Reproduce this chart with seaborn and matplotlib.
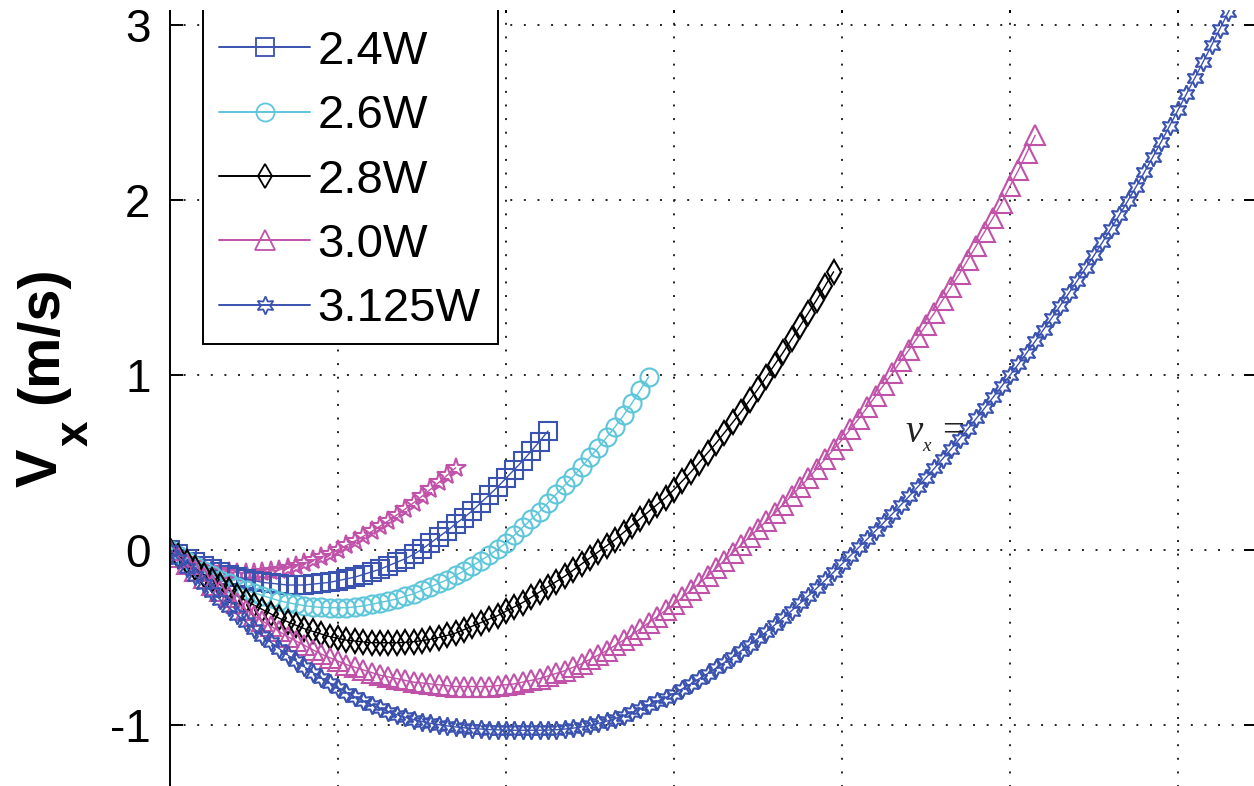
import matplotlib
matplotlib.use('Agg')
import matplotlib.pyplot as plt
from matplotlib.lines import Line2D
from matplotlib.patches import Rectangle
import seaborn as sns

# sample times (shared by all runs, each run uses the first len(v) of them)
t = [0.00, 0.05, 0.10, 0.15, 0.20, 0.25, 0.30, 0.35, 0.40, 0.45,
     0.50, 0.55, 0.60, 0.65, 0.70, 0.75, 0.80, 0.85, 0.90, 0.95,
     1.00, 1.05, 1.10, 1.15, 1.20, 1.25, 1.30, 1.35, 1.40, 1.45,
     1.50, 1.55, 1.60, 1.65, 1.70, 1.75, 1.80, 1.85, 1.90, 1.95,
     2.00, 2.05, 2.10, 2.15, 2.20, 2.25, 2.30, 2.35, 2.40, 2.45,
     2.50, 2.55, 2.60, 2.65, 2.70, 2.75, 2.80, 2.85, 2.90, 2.95,
     3.00, 3.05, 3.10, 3.15, 3.20, 3.25, 3.30, 3.35, 3.40, 3.45,
     3.50, 3.55, 3.60, 3.65, 3.70, 3.75, 3.80, 3.85, 3.90, 3.95,
     4.00, 4.05, 4.10, 4.15, 4.20, 4.25, 4.30, 4.35, 4.40, 4.45,
     4.50, 4.55, 4.60, 4.65, 4.70, 4.75, 4.80, 4.85, 4.90, 4.95,
     5.00, 5.05, 5.10, 5.15, 5.20, 5.25, 5.30, 5.35, 5.40, 5.45,
     5.50, 5.55, 5.60, 5.65, 5.70, 5.75, 5.80, 5.85, 5.90, 5.95,
     6.00, 6.05, 6.10, 6.15, 6.20, 6.25, 6.30, 6.35]

v_22 = [0, -0.03, -0.057, -0.078, -0.095, -0.108, -0.118, -0.125, -0.129, -0.131,
        -0.13, -0.127, -0.121, -0.113, -0.103, -0.09, -0.075, -0.058, -0.04, -0.02,
        0.002, 0.026, 0.051, 0.078, 0.106, 0.136, 0.167, 0.2, 0.234, 0.27,
        0.307, 0.346, 0.386, 0.427, 0.47]

v_24 = [0, -0.025, -0.05, -0.07, -0.09, -0.11, -0.125, -0.14, -0.155, -0.165,
        -0.175, -0.185, -0.19, -0.195, -0.2, -0.2, -0.2, -0.195, -0.19, -0.185,
        -0.175, -0.165, -0.155, -0.14, -0.125, -0.11, -0.09, -0.07, -0.05, -0.025,
        0.005, 0.04, 0.075, 0.11, 0.15, 0.185, 0.225, 0.27, 0.315, 0.36,
        0.41, 0.46, 0.51, 0.565, 0.62, 0.68]

v_26 = [0, -0.03, -0.06, -0.09, -0.12, -0.145, -0.17, -0.19, -0.21, -0.23,
        -0.245, -0.26, -0.275, -0.29, -0.30, -0.31, -0.318, -0.324, -0.328, -0.33,
        -0.33, -0.33, -0.325, -0.32, -0.31, -0.30, -0.29, -0.28, -0.265, -0.25,
        -0.23, -0.21, -0.19, -0.17, -0.145, -0.12, -0.09, -0.06, -0.03, 0.005,
        0.04, 0.085, 0.13, 0.175, 0.22, 0.27, 0.32, 0.37, 0.42, 0.475,
        0.53, 0.585, 0.645, 0.705, 0.77, 0.84, 0.915, 0.99]

v_28 = [0, -0.035, -0.07, -0.105, -0.14, -0.17, -0.2, -0.23, -0.26, -0.29,
        -0.315, -0.34, -0.365, -0.39, -0.41, -0.43, -0.45, -0.465, -0.48, -0.495,
        -0.505, -0.515, -0.52, -0.525, -0.53, -0.53, -0.53, -0.53, -0.528, -0.524,
        -0.518, -0.51, -0.50, -0.488, -0.475, -0.455, -0.435, -0.415, -0.395, -0.375,
        -0.35, -0.325, -0.30, -0.27, -0.24, -0.21, -0.18, -0.15, -0.115, -0.08,
        -0.045, -0.01, 0.025, 0.06, 0.10, 0.14, 0.18, 0.22, 0.26, 0.30,
        0.345, 0.395, 0.445, 0.50, 0.555, 0.61, 0.67, 0.73, 0.79, 0.855,
        0.92, 0.99, 1.06, 1.13, 1.205, 1.28, 1.355, 1.43, 1.51, 1.59]

v_30 = [0, -0.04, -0.08, -0.12, -0.16, -0.2, -0.235, -0.27, -0.305, -0.34,
        -0.375, -0.405, -0.435, -0.465, -0.495, -0.52, -0.545, -0.57, -0.595, -0.615,
        -0.635, -0.655, -0.67, -0.685, -0.7, -0.715, -0.725, -0.735, -0.745, -0.755,
        -0.76, -0.765, -0.77, -0.775, -0.78, -0.78, -0.78, -0.78, -0.78, -0.775,
        -0.77, -0.765, -0.755, -0.745, -0.735, -0.72, -0.705, -0.69, -0.67, -0.65,
        -0.625, -0.6, -0.575, -0.545, -0.515, -0.485, -0.45, -0.415, -0.38, -0.345,
        -0.31, -0.27, -0.23, -0.19, -0.15, -0.105, -0.06, -0.015, 0.03, 0.075,
        0.12, 0.165, 0.21, 0.26, 0.31, 0.36, 0.41, 0.465, 0.52, 0.575,
        0.63, 0.69, 0.75, 0.815, 0.88, 0.945, 1.01, 1.08, 1.145, 1.215,
        1.285, 1.355, 1.43, 1.505, 1.58, 1.66, 1.74, 1.82, 1.90, 1.985,
        2.08, 2.17, 2.27, 2.37]

v_3125 = [0, -0.05, -0.1, -0.148, -0.195, -0.24, -0.285, -0.328, -0.37, -0.41,
          -0.45, -0.489, -0.527, -0.564, -0.6, -0.635, -0.668, -0.7, -0.731, -0.76,
          -0.788, -0.815, -0.84, -0.863, -0.885, -0.905, -0.924, -0.941, -0.956, -0.969,
          -0.98, -0.99, -0.998, -1.005, -1.011, -1.016, -1.02, -1.023, -1.026, -1.028,
          -1.029, -1.03, -1.03, -1.03, -1.03, -1.029, -1.027, -1.023, -1.018, -1.011,
          -1.002, -0.991, -0.978, -0.963, -0.946, -0.928, -0.908, -0.887, -0.865, -0.843,
          -0.82, -0.793, -0.765, -0.736, -0.706, -0.675, -0.643, -0.61, -0.576, -0.541,
          -0.505, -0.467, -0.428, -0.388, -0.347, -0.305, -0.262, -0.218, -0.173, -0.127,
          -0.08, -0.032, 0.015, 0.062, 0.11, 0.158, 0.207, 0.257, 0.308, 0.36,
          0.413, 0.467, 0.522, 0.578, 0.635, 0.693, 0.752, 0.812, 0.873, 0.935,
          0.998, 1.062, 1.127, 1.193, 1.26, 1.328, 1.397, 1.467, 1.538, 1.61,
          1.683, 1.758, 1.835, 1.913, 1.993, 2.075, 2.159, 2.245, 2.333, 2.423,
          2.514, 2.605, 2.697, 2.79, 2.884, 2.979, 3.075, 3.17]

blue = '#3a52b0'
cyan = '#5ec6da'
magenta = '#c152a9'

# label, values, colour, marker, marker size
runs = [
    ('2.2W', v_22, magenta, '*', 15),
    ('2.4W', v_24, blue, 's', 13),
    ('2.6W', v_26, cyan, 'o', 13),
    ('2.8W', v_28, 'black', 'd', 12),
    ('3.0W', v_30, magenta, '^', 14),
    ('3.125W', v_3125, blue, (6, 1, 0), 13),
]
legend_runs = ['2.4W', '2.6W', '2.8W', '3.0W', '3.125W']

sns.set_theme(style='white')
plt.rcParams['font.family'] = ['Liberation Sans', 'DejaVu Sans']
plt.rcParams['axes.unicode_minus'] = False
plt.rcParams['text.color'] = 'black'
plt.rcParams['axes.labelcolor'] = 'black'
plt.rcParams['xtick.color'] = 'black'
plt.rcParams['ytick.color'] = 'black'
plt.rcParams['mathtext.fontset'] = 'custom'
plt.rcParams['mathtext.it'] = 'Liberation Serif:italic'

W, H = 1254, 786
fig = plt.figure(figsize=(W / 100, H / 100), dpi=100)
fig.patch.set_facecolor('white')
ax = fig.add_axes([170 / W, -20 / H, 1086 / W, 806 / H])

handles = {}
for label, v, color, marker, ms in runs:
    sns.lineplot(x=t[:len(v)], y=v, ax=ax, color=color, linewidth=1.0,
                 marker=marker, markersize=ms, markerfacecolor='none',
                 markeredgecolor=color, markeredgewidth=1.5, zorder=2)
    handles[label] = Line2D([], [], color=color, linewidth=1.4, marker=marker,
                            markersize=ms, markerfacecolor='none',
                            markeredgecolor=color, markeredgewidth=1.3)

ax.set_xlim(0, 1086 / 168)
ax.set_ylim(-256 / 175, 550 / 175)
ax.set_xticks([0, 1, 2, 3, 4, 5, 6])
ax.set_xticklabels([])
ax.set_yticks([-1, 0, 1, 2, 3])
ax.set_yticklabels(['-1', '0', '1', '2', '3'])
ax.set_xlabel('')
ax.set_ylabel('')
ax.grid(True, color='#222222', linestyle=(0, (1, 6)), linewidth=1.4)
ax.set_axisbelow(True)
for side in ['left', 'right', 'top', 'bottom']:
    ax.spines[side].set_color('black')
    ax.spines[side].set_linewidth(1.4)
ax.tick_params(axis='y', direction='in', length=9, width=1.4, left=True,
               right=True, labelsize=33, pad=14, colors='black')
ax.tick_params(axis='x', direction='in', length=9, width=1.4, bottom=True,
               top=True)

# legend box (its top runs off the picture)
ax.add_patch(Rectangle((203 / W, 1 - 344 / H), 295 / W, 400 / H,
                       transform=fig.transFigure, facecolor='white',
                       edgecolor='black', linewidth=1.4, zorder=5,
                       clip_on=False))
leg = ax.legend([handles[k] for k in legend_runs], legend_runs,
                loc='upper left', bbox_to_anchor=(219 / W, 1 - 30 / H),
                bbox_transform=fig.transFigure, frameon=False, fontsize=34,
                handlelength=1.93, handletextpad=0.15, labelspacing=0.43,
                borderpad=0, borderaxespad=0)
leg.set_zorder(6)

ax.text(4.375, 0.617, r'$v_{_x}$ =', family='Liberation Serif', fontsize=28,
        color='#222222', zorder=4)

# y label: bold V with a subscript x, then the unit
ylab = dict(rotation=90, rotation_mode='anchor', ha='left', va='baseline',
            fontweight='bold', color='black')
fig.text(57 / W, 1 - 487 / H, 'V', fontsize=41.5, **ylab)
fig.text(88 / W, 1 - 446 / H, 'x', fontsize=33, **ylab)
fig.text(57 / W, 1 - 404 / H, '(m/s)', fontsize=41.5, **ylab)

# white strip along the top edge of the crop
fig.add_artist(Rectangle((0, 1 - 10 / H), 1, 10 / H, transform=fig.transFigure,
                         facecolor='white', edgecolor='none', zorder=20))

fig.savefig('out.png', dpi=100)
